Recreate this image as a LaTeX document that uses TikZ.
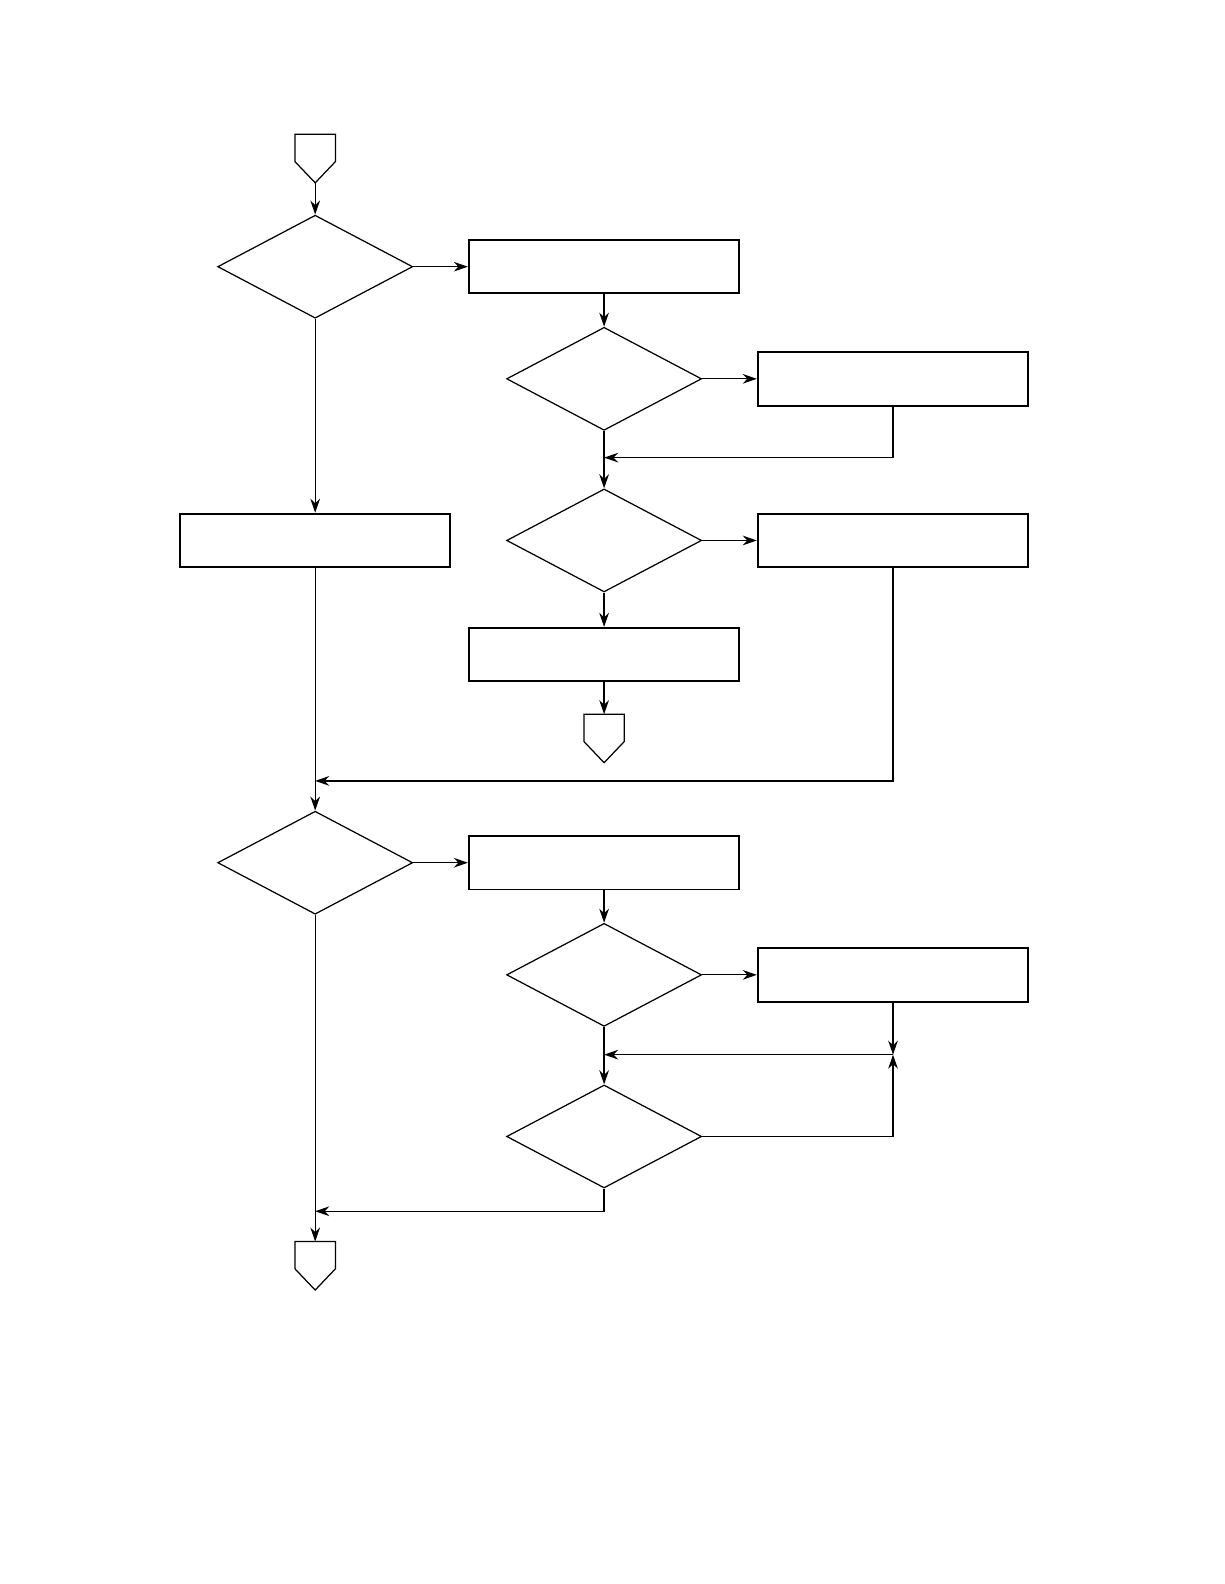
\documentclass[tikz,border=0pt]{standalone}
\usetikzlibrary{shapes.geometric,arrows.meta}
\begin{document}
\begin{tikzpicture}[x=0.0202cm, y=-0.0202cm, line width=0.7pt,
    >={Stealth[length=8pt,width=5.5pt]},
    decision/.style={draw, diamond, minimum width=3.9cm, minimum height=2.06cm, inner sep=0pt},
    process/.style={draw, rectangle, line width=1.1pt, minimum width=5.41cm, minimum height=1.07cm, inner sep=0pt}]
  \useasboundingbox (0,0) rectangle (1212,1568);
  % off-page connectors
  \draw (292,133) -- (332,133) -- (332,160) -- (312,181) -- (292,160) -- cycle;
  \coordinate (start) at (312,181);
  \draw (578,707) -- (618,707) -- (618,734) -- (598,755) -- (578,734) -- cycle;
  \coordinate (exitA) at (598,707);
  \draw (292,1229) -- (332,1229) -- (332,1256) -- (312,1277) -- (292,1256) -- cycle;
  \coordinate (exitB) at (312,1229);
  % upper part
  \node[decision] (d1) at (312,264) {};
  \node[process] (b1) at (598,264) {};
  \node[decision] (d2) at (598,375) {};
  \node[process] (b2) at (884,375) {};
  \node[decision] (d3) at (598,535) {};
  \node[process] (b3) at (884,535) {};
  \node[process] (b4) at (312,535) {};
  \node[process] (b5) at (598,648) {};
  \coordinate (j1) at (598,453);
  \coordinate (j2) at (312,773);
  \draw[->] (start) -- (d1.north);
  \draw[->] (d1.east) -- (b1.west);
  \draw[->] (b1.south) -- (d2.north);
  \draw[->] (d2.east) -- (b2.west);
  \draw[->] (b2.south) |- (j1);
  \draw[->] (d2.south) -- (d3.north);
  \draw[->] (d3.east) -- (b3.west);
  \draw[->] (d3.south) -- (b5.north);
  \draw[->] (b5.south) -- (exitA);
  \draw[->] (d1.south) -- (b4.north);
  \draw[->] (b3.south) |- (j2);
  % lower part
  \node[decision] (d4) at (312,854) {};
  \node[process] (b6) at (598,854) {};
  \node[decision] (d5) at (598,965) {};
  \node[process] (b7) at (884,965) {};
  \node[decision] (d6) at (598,1125) {};
  \coordinate (j3) at (884,1044);
  \coordinate (j4) at (598,1044);
  \coordinate (j5) at (312,1199);
  \draw[->] (b4.south) -- (d4.north);
  \draw[->] (d4.east) -- (b6.west);
  \draw[->] (b6.south) -- (d5.north);
  \draw[->] (d5.east) -- (b7.west);
  \draw[->] (b7.south) -- (j3);
  \draw[->] (j3) -- (j4);
  \draw[->] (d5.south) -- (d6.north);
  \draw[->] (d6.east) -| (j3);
  \draw[->] (d6.south) |- (j5);
  \draw[->] (d4.south) -- (exitB);
\end{tikzpicture}
\end{document}
